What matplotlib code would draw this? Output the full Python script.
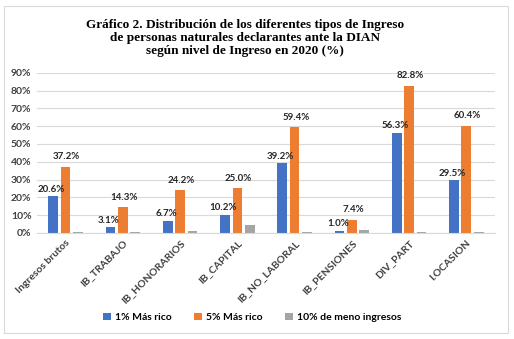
import matplotlib.pyplot as plt
import numpy as np
from matplotlib.patches import Rectangle

categories = ["Ingresos brutos", "IB_TRABAJO", "IB_HONORARIOS", "IB_CAPITAL",
              "IB_NO_LABORAL", "IB_PENSIONES", "DIV_PART", "I.OCASION"]
top1 = [20.6, 3.1, 6.7, 10.2, 39.2, 1.0, 56.3, 29.5]
top5 = [37.2, 14.3, 24.2, 25.0, 59.4, 7.4, 82.8, 60.4]
bottom10 = [0.7, 0.6, 1.0, 4.6, 0.3, 1.5, 0.3, 0.3]
series_names = ["1% Más rico", "5% Más rico", "10% de meno ingresos"]
colors = ["#4472C4", "#ED7D31", "#A5A5A5"]
yticks = [0, 10, 20, 30, 40, 50, 60, 70, 80, 90]

plt.rcParams['font.family'] = ['Lato', 'DejaVu Sans']

fig = plt.figure(figsize=(5.14, 3.39), dpi=100)
# light frame around the whole chart
fig.patches.append(Rectangle((0.008, 0.018), 0.98, 0.965, transform=fig.transFigure,
                             fill=False, edgecolor="#D9D9D9", linewidth=0.8))

fig.text(0.477, 0.945, "Gráfico 2. Distribución de los diferentes tipos de Ingreso\n"
         "de personas naturales declarantes ante la DIAN\n"
         "según nivel de Ingreso en 2020 (%)",
         ha='center', va='top', fontsize=9.5, fontweight='bold',
         family='Liberation Serif', linespacing=1.15)

ax = fig.add_axes([0.072, 0.313, 0.891, 0.472])
x = np.arange(len(categories))
w = 0.17
step = 0.215
ax.bar(x - step, top1, w, color=colors[0], label=series_names[0])
ax.bar(x, top5, w, color=colors[1], label=series_names[1])
ax.bar(x + step, bottom10, w, color=colors[2], label=series_names[2])

for i in range(len(categories)):
    ax.text(x[i] - step - 0.03, top1[i] + 1.5, f"{top1[i]:.1f}%", ha='center', va='bottom',
            fontsize=7, fontweight='bold', color='#262626')
    ax.text(x[i] + 0.02, top5[i] + 3.0, f"{top5[i]:.1f}%", ha='center', va='bottom',
            fontsize=7, fontweight='bold', color='#262626')

ax.set_ylim(0, 90)
ax.set_xlim(-0.5, len(categories) - 0.5)
ax.set_yticks(yticks)
ax.set_yticklabels([f"{v}%" for v in yticks], fontsize=7.5, fontweight='bold', color='#404040')
ax.set_xticks(x)
ax.set_xticklabels(categories, rotation=45, ha='right', rotation_mode='anchor',
                   fontsize=7.5, fontweight='bold', color='#404040')
ax.tick_params(axis='both', length=0, pad=4)
ax.grid(axis='y', color='#D9D9D9', linewidth=0.8)
ax.set_axisbelow(True)
for s in ['top', 'right', 'left']:
    ax.spines[s].set_visible(False)
ax.spines['bottom'].set_color('#D9D9D9')

ax.legend(loc='center', bbox_to_anchor=(0.47, -0.53), ncol=3, frameon=False,
          fontsize=7.5, handlelength=0.7, handleheight=0.7, columnspacing=2.2,
          handletextpad=0.4, prop={'weight': 'bold', 'size': 7.5})

fig.savefig("out.png", dpi=100)
